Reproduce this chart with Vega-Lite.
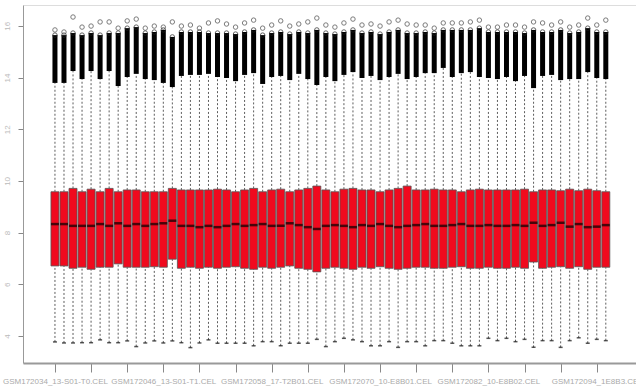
{
  "$schema": "https://vega.github.io/schema/vega-lite/v6.json",
  "width": 613,
  "height": 358,
  "autosize": {"type": "none"},
  "padding": {"left": 23, "top": 5, "right": 0, "bottom": 28},
  "background": "white",
  "config": {
    "view": {"stroke": null},
    "font": "Liberation Sans"
  },
  "data": {
    "values": [
      {"i": 1, "q1": 6.71, "med": 8.33, "q3": 9.58, "lo": 3.77, "hi": 13.79, "dense": 15.64, "out1": 15.84},
      {"i": 2, "q1": 6.71, "med": 8.33, "q3": 9.58, "lo": 3.73, "hi": 13.79, "dense": 15.64, "out1": 15.76},
      {"i": 3, "q1": 6.62, "med": 8.26, "q3": 9.71, "lo": 3.73, "hi": 14.25, "dense": 15.72, "out1": 16.34},
      {"i": 4, "q1": 6.66, "med": 8.26, "q3": 9.58, "lo": 3.74, "hi": 13.94, "dense": 15.64, "out1": 15.95},
      {"i": 5, "q1": 6.58, "med": 8.26, "q3": 9.68, "lo": 3.74, "hi": 14.25, "dense": 15.72, "out1": 15.99},
      {"i": 6, "q1": 6.66, "med": 8.33, "q3": 9.58, "lo": 3.85, "hi": 13.94, "dense": 15.64, "out1": 16.15},
      {"i": 7, "q1": 6.66, "med": 8.26, "q3": 9.71, "lo": 3.74, "hi": 14.25, "dense": 15.72, "out1": 16.15},
      {"i": 8, "q1": 6.79, "med": 8.36, "q3": 9.58, "lo": 3.74, "hi": 13.67, "dense": 15.72, "out1": 15.91},
      {"i": 9, "q1": 6.66, "med": 8.26, "q3": 9.65, "lo": 3.81, "hi": 14.02, "dense": 15.91, "out1": 16.19},
      {"i": 10, "q1": 6.66, "med": 8.33, "q3": 9.65, "lo": 3.59, "hi": 14.14, "dense": 15.95, "out1": 16.26},
      {"i": 11, "q1": 6.66, "med": 8.26, "q3": 9.58, "lo": 3.73, "hi": 13.94, "dense": 15.72, "out1": 15.91},
      {"i": 12, "q1": 6.68, "med": 8.33, "q3": 9.58, "lo": 3.81, "hi": 13.90, "dense": 15.76, "out1": 15.99},
      {"i": 13, "q1": 6.66, "med": 8.36, "q3": 9.58, "lo": 3.73, "hi": 13.79, "dense": 15.84, "out1": 15.95},
      {"i": 14, "q1": 6.97, "med": 8.46, "q3": 9.71, "lo": 3.81, "hi": 13.63, "dense": 15.57, "out1": 16.15},
      {"i": 15, "q1": 6.62, "med": 8.26, "q3": 9.65, "lo": 3.74, "hi": 14.06, "dense": 15.76, "out1": 15.99},
      {"i": 16, "q1": 6.66, "med": 8.26, "q3": 9.65, "lo": 3.55, "hi": 14.10, "dense": 15.76, "out1": 16.03},
      {"i": 17, "q1": 6.62, "med": 8.21, "q3": 9.65, "lo": 3.73, "hi": 14.10, "dense": 15.76, "out1": 15.91},
      {"i": 18, "q1": 6.66, "med": 8.26, "q3": 9.65, "lo": 3.85, "hi": 14.14, "dense": 15.72, "out1": 16.11},
      {"i": 19, "q1": 6.62, "med": 8.21, "q3": 9.68, "lo": 3.72, "hi": 14.02, "dense": 15.72, "out1": 16.19},
      {"i": 20, "q1": 6.66, "med": 8.26, "q3": 9.65, "lo": 3.72, "hi": 13.98, "dense": 15.72, "out1": 16.07},
      {"i": 21, "q1": 6.68, "med": 8.33, "q3": 9.58, "lo": 3.72, "hi": 13.86, "dense": 15.68, "out1": 15.95},
      {"i": 22, "q1": 6.62, "med": 8.26, "q3": 9.65, "lo": 3.72, "hi": 14.10, "dense": 15.76, "out1": 16.11},
      {"i": 23, "q1": 6.58, "med": 8.29, "q3": 9.71, "lo": 3.62, "hi": 14.17, "dense": 15.84, "out1": 16.22},
      {"i": 24, "q1": 6.66, "med": 8.33, "q3": 9.58, "lo": 3.78, "hi": 13.75, "dense": 15.64, "out1": 15.91},
      {"i": 25, "q1": 6.62, "med": 8.26, "q3": 9.65, "lo": 3.78, "hi": 14.02, "dense": 15.72, "out1": 16.03},
      {"i": 26, "q1": 6.66, "med": 8.26, "q3": 9.68, "lo": 3.62, "hi": 14.06, "dense": 15.76, "out1": 16.19},
      {"i": 27, "q1": 6.71, "med": 8.36, "q3": 9.58, "lo": 3.72, "hi": 13.90, "dense": 15.68, "out1": 15.99},
      {"i": 28, "q1": 6.62, "med": 8.29, "q3": 9.65, "lo": 3.72, "hi": 14.14, "dense": 15.76, "out1": 16.07},
      {"i": 29, "q1": 6.58, "med": 8.21, "q3": 9.71, "lo": 3.72, "hi": 13.94, "dense": 15.72, "out1": 16.15},
      {"i": 30, "q1": 6.48, "med": 8.14, "q3": 9.80, "lo": 3.87, "hi": 13.71, "dense": 15.84, "out1": 16.30},
      {"i": 31, "q1": 6.62, "med": 8.26, "q3": 9.65, "lo": 3.59, "hi": 14.02, "dense": 15.72, "out1": 16.03},
      {"i": 32, "q1": 6.66, "med": 8.29, "q3": 9.58, "lo": 3.78, "hi": 13.86, "dense": 15.68, "out1": 15.95},
      {"i": 33, "q1": 6.62, "med": 8.26, "q3": 9.68, "lo": 3.91, "hi": 14.10, "dense": 15.76, "out1": 16.11},
      {"i": 34, "q1": 6.58, "med": 8.21, "q3": 9.71, "lo": 3.85, "hi": 14.21, "dense": 15.84, "out1": 16.26},
      {"i": 35, "q1": 6.66, "med": 8.29, "q3": 9.65, "lo": 3.78, "hi": 13.98, "dense": 15.72, "out1": 16.03},
      {"i": 36, "q1": 6.62, "med": 8.26, "q3": 9.65, "lo": 3.62, "hi": 14.06, "dense": 15.76, "out1": 16.07},
      {"i": 37, "q1": 6.68, "med": 8.33, "q3": 9.58, "lo": 3.62, "hi": 13.90, "dense": 15.68, "out1": 15.99},
      {"i": 38, "q1": 6.62, "med": 8.26, "q3": 9.65, "lo": 3.78, "hi": 14.02, "dense": 15.76, "out1": 16.15},
      {"i": 39, "q1": 6.58, "med": 8.21, "q3": 9.71, "lo": 3.56, "hi": 14.14, "dense": 15.84, "out1": 16.22},
      {"i": 40, "q1": 6.62, "med": 8.26, "q3": 9.80, "lo": 3.78, "hi": 13.94, "dense": 15.72, "out1": 16.07},
      {"i": 41, "q1": 6.66, "med": 8.29, "q3": 9.65, "lo": 3.78, "hi": 14.02, "dense": 15.72, "out1": 16.03},
      {"i": 42, "q1": 6.66, "med": 8.33, "q3": 9.65, "lo": 3.62, "hi": 14.17, "dense": 15.76, "out1": 16.03},
      {"i": 43, "q1": 6.62, "med": 8.26, "q3": 9.68, "lo": 3.82, "hi": 14.17, "dense": 15.72, "out1": 15.91},
      {"i": 44, "q1": 6.62, "med": 8.26, "q3": 9.65, "lo": 3.82, "hi": 14.37, "dense": 15.84, "out1": 16.11},
      {"i": 45, "q1": 6.66, "med": 8.29, "q3": 9.65, "lo": 3.72, "hi": 14.02, "dense": 15.84, "out1": 16.11},
      {"i": 46, "q1": 6.68, "med": 8.33, "q3": 9.58, "lo": 3.62, "hi": 14.17, "dense": 15.84, "out1": 16.11},
      {"i": 47, "q1": 6.62, "med": 8.26, "q3": 9.65, "lo": 3.62, "hi": 14.21, "dense": 15.84, "out1": 16.15},
      {"i": 48, "q1": 6.62, "med": 8.26, "q3": 9.68, "lo": 3.62, "hi": 14.02, "dense": 15.91, "out1": 16.22},
      {"i": 49, "q1": 6.66, "med": 8.29, "q3": 9.65, "lo": 3.91, "hi": 13.98, "dense": 15.76, "out1": 15.95},
      {"i": 50, "q1": 6.62, "med": 8.26, "q3": 9.65, "lo": 3.82, "hi": 13.94, "dense": 15.76, "out1": 15.95},
      {"i": 51, "q1": 6.62, "med": 8.26, "q3": 9.65, "lo": 3.91, "hi": 14.02, "dense": 15.76, "out1": 16.03},
      {"i": 52, "q1": 6.66, "med": 8.29, "q3": 9.65, "lo": 3.78, "hi": 13.86, "dense": 15.76, "out1": 16.03},
      {"i": 53, "q1": 6.62, "med": 8.26, "q3": 9.68, "lo": 3.87, "hi": 14.06, "dense": 15.72, "out1": 15.95},
      {"i": 54, "q1": 6.86, "med": 8.38, "q3": 9.58, "lo": 3.56, "hi": 13.59, "dense": 15.84, "out1": 16.15},
      {"i": 55, "q1": 6.62, "med": 8.26, "q3": 9.65, "lo": 3.82, "hi": 14.06, "dense": 15.76, "out1": 16.11},
      {"i": 56, "q1": 6.66, "med": 8.29, "q3": 9.65, "lo": 3.82, "hi": 14.10, "dense": 15.76, "out1": 16.03},
      {"i": 57, "q1": 6.68, "med": 8.38, "q3": 9.62, "lo": 3.56, "hi": 13.90, "dense": 15.84, "out1": 16.15},
      {"i": 58, "q1": 6.62, "med": 8.23, "q3": 9.68, "lo": 3.82, "hi": 13.94, "dense": 15.72, "out1": 15.95},
      {"i": 59, "q1": 6.68, "med": 8.33, "q3": 9.62, "lo": 3.93, "hi": 13.94, "dense": 15.76, "out1": 16.03},
      {"i": 60, "q1": 6.58, "med": 8.21, "q3": 9.68, "lo": 3.72, "hi": 14.21, "dense": 15.91, "out1": 16.30},
      {"i": 61, "q1": 6.66, "med": 8.23, "q3": 9.62, "lo": 3.87, "hi": 13.98, "dense": 15.76, "out1": 16.03},
      {"i": 62, "q1": 6.66, "med": 8.29, "q3": 9.58, "lo": 3.82, "hi": 13.94, "dense": 15.76, "out1": 16.22}
    ]
  },
  "encoding": {
    "x": {
      "field": "i",
      "type": "quantitative",
      "scale": {"domain": [-1.985, 64.79], "nice": false, "zero": false}
    }
  },
  "layer": [
    {
      "layer": [
        {
          "mark": {"type": "rule", "color": "#333", "strokeWidth": 0.8, "strokeDash": [2, 2]},
          "encoding": {
            "x": {
              "field": "i",
              "type": "quantitative",
              "title": null,
              "axis": {
                "values": [1,2,3,4,5,6,7,8,9,10,11,12,13,14,15,16,17,18,19,20,21,22,23,24,25,26,27,28,29,30,31,32,33,34,35,36,37,38,39,40,41,42,43,44,45,46,47,48,49,50,51,52,53,54,55,56,57,58,59,60,61,62],
                "orient": "bottom",
                "domainColor": "#999",
                "domainWidth": 2,
                "tickColor": "#888",
                "tickSize": 9,
                "tickWidth": 1,
                "labelColor": "#aaa",
                "labelFontSize": 8,
                "labelPadding": 5,
                "labelOverlap": false,
                "labelFlush": false,
                "labelExpr": "datum.value === 1 ? 'GSM172034_13-S01-T0.CEL' : datum.value === 13 ? 'GSM172046_13-S01-T1.CEL' : datum.value === 25 ? 'GSM172058_17-T2B01.CEL' : datum.value === 37 ? 'GSM172070_10-E8B01.CEL' : datum.value === 49 ? 'GSM172082_10-E8B02.CEL' : datum.value === 61 ? 'GSM172094_1E8B3.CEL' : ''",
                "grid": false
              }
            },
            "y": {
              "field": "q3",
              "type": "quantitative",
              "title": null,
              "scale": {"domain": [2.955, 16.805], "nice": false, "zero": false},
              "axis": {
                "values": [4, 6, 8, 10, 12, 14, 16],
                "domainColor": "#999",
                "domainWidth": 1,
                "tickColor": "#888",
                "tickSize": 5,
                "labelColor": "#bbb",
                "labelFontSize": 8,
                "labelAngle": 270,
                "labelAlign": "center",
                "labelBaseline": "bottom",
                "labelPadding": 7,
                "grid": false
              }
            },
            "y2": {"field": "hi"}
          }
        },
        {
          "mark": {"type": "rule", "color": "#333", "strokeWidth": 0.8, "strokeDash": [2, 2]},
          "encoding": {
            "y": {"field": "lo", "type": "quantitative", "title": null},
            "y2": {"field": "q1"}
          }
        },
        {
          "mark": {"type": "tick", "orient": "horizontal", "color": "#111", "size": 4, "thickness": 1.5},
          "encoding": {
            "y": {"field": "lo", "type": "quantitative", "title": null}
          }
        },
        {
          "mark": {"type": "rule", "color": "#000", "strokeWidth": 5},
          "encoding": {
            "y": {"field": "hi", "type": "quantitative", "title": null},
            "y2": {"field": "dense"}
          }
        },
        {
          "mark": {"type": "point", "shape": "circle", "filled": false, "color": "#222", "size": 20, "strokeWidth": 1},
          "encoding": {
            "y": {"field": "dense", "type": "quantitative", "title": null}
          }
        },
        {
          "mark": {"type": "point", "shape": "circle", "filled": false, "color": "#444", "size": 20, "strokeWidth": 1},
          "encoding": {
            "y": {"field": "out1", "type": "quantitative", "title": null}
          }
        },
        {
          "mark": {"type": "bar", "size": 8, "color": "#f00a1e", "stroke": "#555", "strokeWidth": 0.8},
          "encoding": {
            "y": {"field": "q1", "type": "quantitative", "title": null},
            "y2": {"field": "q3"}
          }
        },
        {
          "mark": {"type": "tick", "orient": "horizontal", "color": "#000", "size": 8, "thickness": 2.5},
          "encoding": {
            "y": {"field": "med", "type": "quantitative", "title": null}
          }
        }
      ]
    },
    {
      "mark": {"type": "rule", "color": "#000", "strokeWidth": 0, "opacity": 0},
      "encoding": {
        "x": {
          "field": "i",
          "type": "quantitative",
          "title": null,
          "axis": {"orient": "top", "labels": false, "ticks": false, "domainColor": "#ddd", "domainWidth": 1, "grid": false}
        },
        "y": {"field": "med", "type": "quantitative", "title": null}
      }
    }
  ],
  "resolve": {"axis": {"x": "independent"}}
}
